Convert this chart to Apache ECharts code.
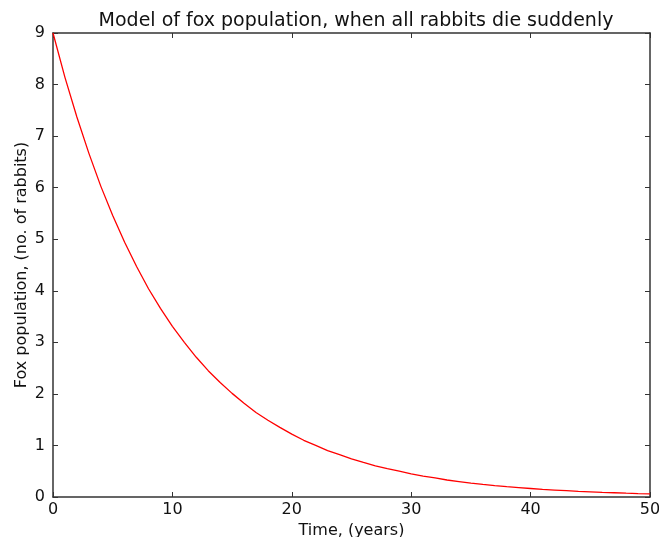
<!DOCTYPE html>
<html>
<head>
<meta charset="utf-8">
<script src="https://cdn.jsdelivr.net/npm/echarts@6/dist/echarts.min.js"></script>
<style>
    html, body { margin: 0; padding: 0; background: #fff; }
    #fox_chart { width: 659px; height: 537px; }
</style>
</head>
<body>
<div id="fox_chart"></div>
<script>
// values, one per year
const years = [0, 1, 2, 3, 4, 5, 6, 7, 8, 9, 10, 11, 12, 13, 14, 15, 16, 17, 18, 19, 20, 21, 22, 23, 24, 25,
    26, 27, 28, 29, 30, 31, 32, 33, 34, 35, 36, 37, 38, 39, 40, 41, 42, 43, 44, 45, 46, 47, 48, 49, 50];
const foxes = [9.00, 8.14, 7.37, 6.67, 6.03, 5.46, 4.94, 4.47, 4.04, 3.66, 3.31, 3.00, 2.71, 2.45, 2.22,
    2.01, 1.82, 1.64, 1.49, 1.35, 1.22, 1.10, 1.00, 0.90, 0.82, 0.74, 0.67, 0.605, 0.55, 0.50, 0.45,
    0.405, 0.37, 0.33, 0.30, 0.27, 0.245, 0.222, 0.20, 0.182, 0.165, 0.149, 0.135, 0.122, 0.11, 0.10,
    0.09, 0.082, 0.074, 0.067, 0.061];
const xTicks = [0, 10, 20, 30, 40, 50];
const yTicks = [0, 1, 2, 3, 4, 5, 6, 7, 8, 9];

const font = 'DejaVu Sans';
const axisColor = '#333';

let chartDom = document.getElementById('fox_chart');
let myChart = echarts.init(chartDom);

const frameAxis = (extra) => Object.assign({
    type: 'value',
    axisLine: { show: true, onZero: false, lineStyle: { color: axisColor, width: 1.5 } },
    axisTick: { show: true, inside: true, length: 5, lineStyle: { color: axisColor, width: 1 } },
    axisLabel: { show: false },
    splitLine: { show: false }
}, extra);

let option = {
    animation: false,
    backgroundColor: '#fff',
    title: {
        text: 'Model of fox population, when all rabbits die suddenly',
        left: 351,
        textAlign: 'center',
        top: 7,
        textStyle: { color: '#111', fontSize: 19, fontWeight: 'normal', fontFamily: font }
    },
    grid: { left: 53, right: 9, top: 33, bottom: 40, outerBoundsMode: 'none', containLabel: false },
    xAxis: [
        frameAxis({
            min: 0, max: 50, interval: 10,
            position: 'bottom',
            name: 'Time, (years)',
            nameLocation: 'middle',
            nameGap: 26,
            nameMoveOverlap: false,
            nameTextStyle: { color: '#111', fontSize: 16, fontFamily: font },
            axisLabel: {
                show: true, color: '#111', fontSize: 16, fontFamily: font, margin: 5,
                formatter: (v) => xTicks.includes(v) ? String(v) : ''
            }
        }),
        frameAxis({ min: 0, max: 50, interval: 10, position: 'top' })
    ],
    yAxis: [
        frameAxis({
            min: 0, max: 9, interval: 1,
            position: 'left',
            name: 'Fox population, (no. of rabbits)',
            nameLocation: 'middle',
            nameGap: 23,
            nameMoveOverlap: false,
            nameTextStyle: { color: '#111', fontSize: 16, fontFamily: font },
            axisLabel: {
                show: true, color: '#111', fontSize: 16, fontFamily: font, margin: 8,
                formatter: (v) => yTicks.includes(v) ? String(v) : ''
            }
        }),
        frameAxis({ min: 0, max: 9, interval: 1, position: 'right' })
    ],
    series: [
        {
            type: 'line',
            xAxisIndex: 0,
            yAxisIndex: 0,
            data: years.map((t, i) => [t, foxes[i]]),
            showSymbol: false,
            lineStyle: { color: '#ff0000', width: 1.3 }
        }
    ]
};

option && myChart.setOption(option);
</script>
</body>
</html>
